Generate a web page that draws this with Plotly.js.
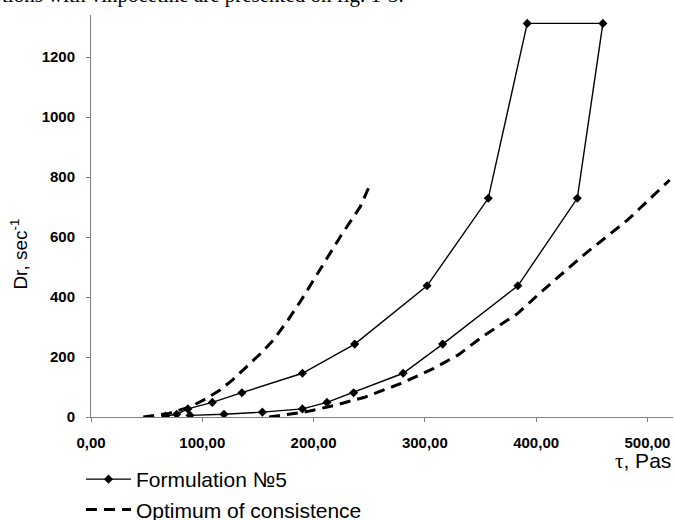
<!DOCTYPE html>
<html>
<head>
<meta charset="utf-8">
<script src="https://cdn.plot.ly/plotly-3.0.1.min.js"></script>
<style>html,body{margin:0;padding:0;background:#fff;}#chart{width:675px;height:520px;}</style>
</head>
<body>
<div id="chart"></div>
<script>
// Formulation №5 (hysteresis loop: up branch then down branch)
var formX = [67, 77, 87, 109, 135.6, 190, 237, 302, 357, 392, 460, 437, 383.6, 316, 280.5, 236, 212, 190, 154, 119.5, 89];
var formY = [3, 9, 27, 48.6, 81, 145.8, 243, 437.4, 729, 1312, 1312, 729, 437.4, 243, 145.8, 81, 48.6, 27, 16.2, 9, 5.4];

// Optimum of consistence: lower (left) boundary
var optLeftX = [47, 70, 90, 104, 116, 127, 140, 152, 164, 177, 189, 209, 224, 242, 251];
var optLeftY = [0, 12, 35, 62, 90, 123, 168, 210, 257, 323, 390, 512, 601, 701, 777];

// Optimum of consistence: upper (right) boundary
var optRightX = [160, 194, 218, 246, 278, 308, 330, 353, 383, 407, 444, 482, 520];
var optRightY = [0, 18, 38, 66, 111, 162, 207, 271, 344, 425, 544, 656, 790];

// Tick labels
var xTickVals = [0, 100, 200, 300, 400, 500];
var xTickText = ["0,00", "100,00", "200,00", "300,00", "400,00", "500,00"];
var yTickVals = [0, 200, 400, 600, 800, 1000, 1200];

var names = ["Formulation №5", "Optimum of consistence"];

var traces = [
  {
    x: formX, y: formY, type: "scatter", mode: "lines+markers",
    name: names[0],
    line: {color: "#000", width: 1.4},
    marker: {symbol: "diamond", size: 7, color: "#000"}
  },
  {
    x: optLeftX, y: optLeftY, type: "scatter", mode: "lines",
    name: names[1], legendgroup: "opt",
    line: {color: "#000", width: 3, dash: "11px,7px"}
  },
  {
    x: optRightX, y: optRightY, type: "scatter", mode: "lines",
    name: names[1], legendgroup: "opt", showlegend: false,
    line: {color: "#000", width: 3, dash: "11px,7px"}
  }
];

var tickFont = {family: "Liberation Sans, Arial, sans-serif", size: 15, color: "#000", weight: "bold"};

var layout = {
  width: 675, height: 520,
  margin: {l: 91, r: 2, t: 15, b: 103, autoexpand: false},
  paper_bgcolor: "#fff", plot_bgcolor: "#fff",
  font: {family: "Liberation Sans, Arial, sans-serif", color: "#000"},
  showlegend: true,
  legend: {
    xref: "container", yref: "container",
    x: 81 / 675, xanchor: "left", y: 1 - 459 / 520, yanchor: "top",
    font: {size: 21, color: "#000"},
    bgcolor: "rgba(0,0,0,0)",
    itemwidth: 45,
    tracegroupgap: 0
  },
  xaxis: {
    range: [0, 523],
    showline: true, linecolor: "#808080", linewidth: 1,
    showgrid: false, zeroline: false,
    ticks: "outside", ticklen: 4, tickcolor: "#808080",
    tickvals: xTickVals, ticktext: xTickText,
    tickfont: tickFont, ticklabelstandoff: 8
  },
  yaxis: {
    range: [0, 1340],
    showline: true, linecolor: "#808080", linewidth: 1,
    showgrid: false, zeroline: false,
    ticks: "outside", ticklen: 4, tickcolor: "#808080",
    tickvals: yTickVals,
    tickfont: tickFont, ticklabelstandoff: 8
  },
  annotations: [
    {
      text: "Dr, sec<sup>-1</sup>", textangle: -90, showarrow: false,
      xref: "paper", yref: "paper", x: -0.123, y: 0.405,
      xanchor: "center", yanchor: "middle",
      font: {size: 19, color: "#000"}
    },
    {
      text: "<span style='font-family:Liberation Serif'>τ</span>, Pas", showarrow: false,
      xref: "paper", yref: "paper", x: 1.0, y: -0.11,
      xanchor: "right", yanchor: "middle",
      font: {size: 21, color: "#000"}
    },
    {
      text: "tions with vinpocetine are presented on fig. 1-3.", showarrow: false,
      xref: "paper", yref: "paper", x: -0.157, y: 1.05,
      xanchor: "left", yanchor: "middle",
      font: {family: "Liberation Serif, Times New Roman, serif", size: 21, color: "#000"}
    }
  ]
};

Plotly.newPlot("chart", traces, layout, {displayModeBar: false, staticPlot: true});
</script>
</body>
</html>
